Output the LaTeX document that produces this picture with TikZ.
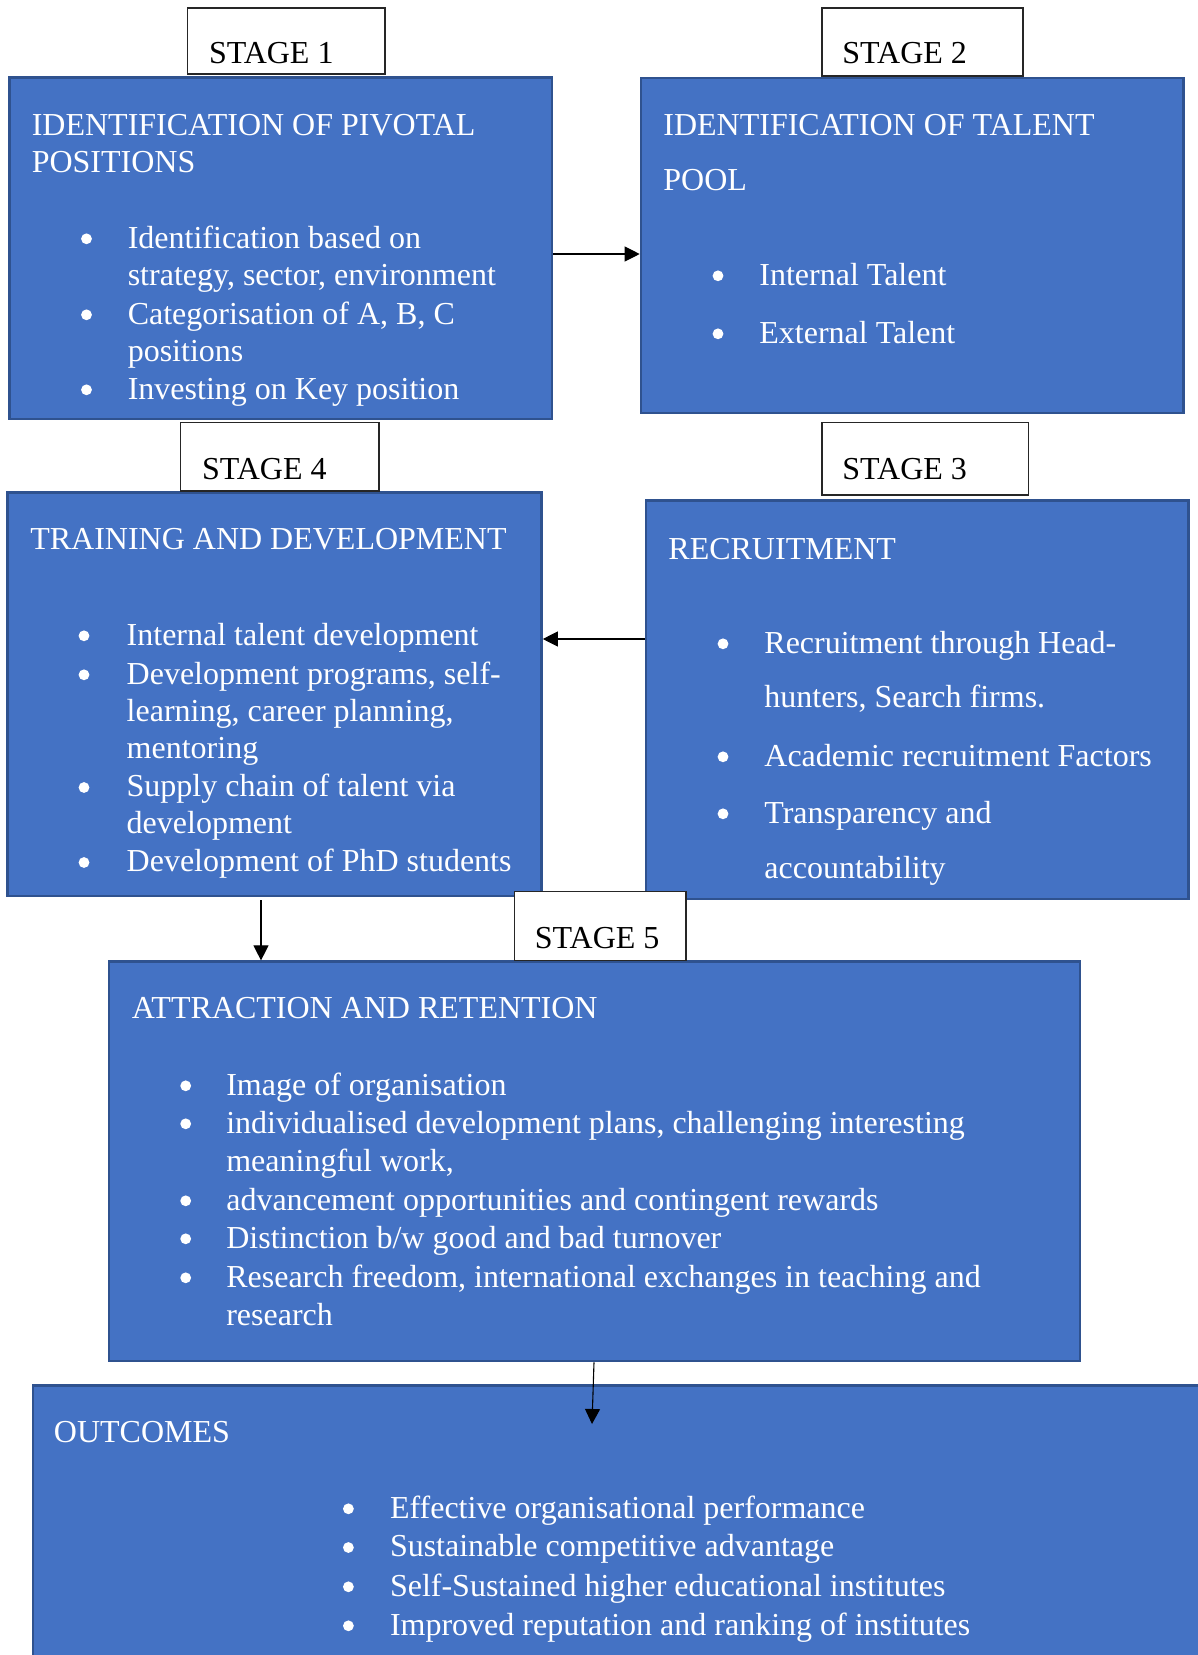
\documentclass[tikz,border=0pt]{standalone}
\usepackage{fontspec}
\setmainfont{Liberation Serif}
\usetikzlibrary{arrows.meta,fit}
\definecolor{boxblue}{RGB}{68,114,196}
\definecolor{boxedge}{RGB}{47,82,143}
\begin{document}
\begin{tikzpicture}[x=0.5pt,y=-0.5pt,
  panel/.style={draw=boxedge, fill=boxblue, line width=1.3pt, inner sep=0pt, rectangle},
  stagebox/.style={draw=black!85, fill=white, line width=0.6pt, inner sep=0pt, rectangle},
  wtxt/.style={text=white, font=\fontsize{16}{19}\selectfont, inner sep=0pt, anchor=base west},
  stxt/.style={text=black, font=\fontsize{16}{19}\selectfont, inner sep=0pt, anchor=base west},
  dot/.style={circle, fill=white, draw=none, inner sep=0pt, minimum size=5.4pt, yshift=4.6pt},
  link/.style={draw=black, line width=0.55pt, -{Triangle[length=7.5pt,width=7.5pt]}}
]
\useasboundingbox (0,0) rectangle (1198,1655);

% ---------- stage panels ----------
\node[panel, fit={(9.6,77.7) (552,419)}] (b1) {};
\node[panel, fit={(641,78) (1183.5,413)}] (b2) {};
\node[panel, fit={(7.7,492.7) (541.5,896)}] (b4) {};
\node[panel, fit={(646,500.7) (1188.5,899)}] (b3) {};
\node[panel, fit={(109,961.7) (1080,1361)}] (b5) {};
\begin{scope}
  \clip (0,0) rectangle (1198,1655);
  \node[panel, fit={(32.8,1385.7) (1215,1675)}] (b6) {};
\end{scope}

% ---------- stage labels ----------
\node[stagebox, fit={(187.5,8) (385,74)}] (st1) {};
\node[stxt] (st1t) at (208.6,63) {STAGE 1};
\node[stagebox, fit={(822,8) (1023,76)}] (st2) {};
\node[stxt] (st2t) at (842,63) {STAGE 2};
\node[stagebox, fit={(180.6,422.7) (379,491)}] (st4) {};
\node[stxt] (st4t) at (201.7,479) {STAGE 4};
\node[stagebox, fit={(822,422.7) (1028.7,495)}] (st3) {};
\node[stxt] (st3t) at (842,479) {STAGE 3};
\node[stagebox, fit={(514.8,891.7) (686,960.7)}] (st5) {};
\node[stxt] (st5t) at (534.5,948) {STAGE 5};

% ---------- stage 1: pivotal positions ----------
\node[wtxt] (b1h1) at (31.4,135) {IDENTIFICATION OF PIVOTAL};
\node[wtxt] (b1h2) at (31.4,172) {POSITIONS};
\node[dot] (b1d1) at (86.5,248) {};
\node[wtxt] (b1l1) at (127.4,248) {Identification based on};
\node[wtxt] (b1l2) at (127.4,285) {strategy, sector, environment};
\node[dot] (b1d2) at (86.5,324) {};
\node[wtxt] (b1l3) at (127.4,324) {Categorisation of A, B, C};
\node[wtxt] (b1l4) at (127.4,361) {positions};
\node[dot] (b1d3) at (86.5,399) {};
\node[wtxt] (b1l5) at (127.4,399) {Investing on Key position};

% ---------- stage 2: talent pool ----------
\node[wtxt] (b2h1) at (663,135) {IDENTIFICATION OF TALENT};
\node[wtxt] (b2h2) at (663,190) {POOL};
\node[dot] (b2d1) at (718,285) {};
\node[wtxt] (b2l1) at (759,285) {Internal Talent};
\node[dot] (b2d2) at (718,343) {};
\node[wtxt] (b2l2) at (759,343) {External Talent};

% ---------- stage 4: training and development ----------
\node[wtxt] (b4h1) at (29.9,549) {TRAINING AND DEVELOPMENT};
\node[dot] (b4d1) at (84,645) {};
\node[wtxt] (b4l1) at (126.3,645) {Internal talent development};
\node[dot] (b4d2) at (84,684) {};
\node[wtxt] (b4l2) at (126.3,684) {Development programs, self-};
\node[wtxt] (b4l3) at (126.3,721.7) {learning, career planning,};
\node[wtxt] (b4l4) at (126.3,758) {mentoring};
\node[dot] (b4d3) at (84,796.7) {};
\node[wtxt] (b4l5) at (126.3,796.7) {Supply chain of talent via};
\node[wtxt] (b4l6) at (126.3,833) {development};
\node[dot] (b4d4) at (84,871.7) {};
\node[wtxt] (b4l7) at (126.3,871.7) {Development of PhD students};

% ---------- stage 3: recruitment ----------
\node[wtxt] (b3h1) at (668,559) {RECRUITMENT};
\node[dot] (b3d1) at (723,653) {};
\node[wtxt] (b3l1) at (764,653) {Recruitment through Head-};
\node[wtxt] (b3l2) at (764,707.7) {hunters, Search firms.};
\node[dot] (b3d2) at (723,766) {};
\node[wtxt] (b3l3) at (764,766) {Academic recruitment Factors};
\node[dot] (b3d3) at (723,823) {};
\node[wtxt] (b3l4) at (764,823) {Transparency and};
\node[wtxt] (b3l5) at (764,878) {accountability};

% ---------- stage 5: attraction and retention ----------
\node[wtxt] (b5h1) at (131.5,1018) {ATTRACTION AND RETENTION};
\node[dot] (b5d1) at (185.7,1095) {};
\node[wtxt] (b5l1) at (225.9,1095) {Image of organisation};
\node[dot] (b5d2) at (185.7,1133) {};
\node[wtxt] (b5l2) at (225.9,1133) {individualised development plans, challenging interesting};
\node[wtxt] (b5l3) at (225.9,1171.7) {meaningful work,};
\node[dot] (b5d3) at (185.7,1210) {};
\node[wtxt] (b5l4) at (225.9,1210) {advancement opportunities and contingent rewards};
\node[dot] (b5d4) at (185.7,1248) {};
\node[wtxt] (b5l5) at (225.9,1248) {Distinction b/w good and bad turnover};
\node[dot] (b5d5) at (185.7,1287) {};
\node[wtxt] (b5l6) at (225.9,1287) {Research freedom, international exchanges in teaching and};
\node[wtxt] (b5l7) at (225.9,1325) {research};

% ---------- outcomes ----------
\node[wtxt] (b6h1) at (53.5,1442.7) {OUTCOMES};
\node[dot] (b6d1) at (348.4,1518) {};
\node[wtxt] (b6l1) at (389.6,1518) {Effective organisational performance};
\node[dot] (b6d2) at (348.4,1556.7) {};
\node[wtxt] (b6l2) at (389.6,1556.7) {Sustainable competitive advantage};
\node[dot] (b6d3) at (348.4,1596) {};
\node[wtxt] (b6l3) at (389.6,1596) {Self-Sustained higher educational institutes};
\node[dot] (b6d4) at (348.4,1635) {};
\node[wtxt] (b6l4) at (389.6,1635) {Improved reputation and ranking of institutes};

% ---------- connectors ----------
\coordinate (r12) at (0,254);
\coordinate (r34) at (0,639);
\coordinate (c45) at (261,900);
\coordinate (c56) at (594,0);
\coordinate (e56) at (592,1424);
\draw[link] (b1.east |- r12) -- (b2.west |- r12);
\draw[link] (b3.west |- r34) -- (b4.east |- r34);
\draw[link] (c45) -- (b5.north -| c45);
\draw[link] (b5.south -| c56) -- (e56);
\end{tikzpicture}
\end{document}
